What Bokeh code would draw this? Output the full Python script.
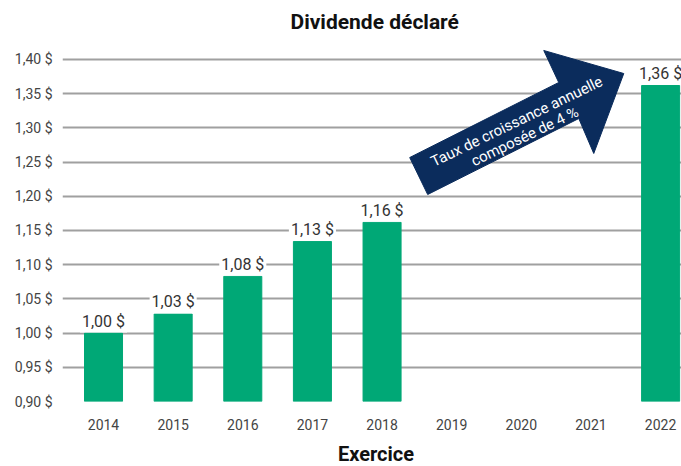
from bokeh.plotting import figure
from bokeh.models import ColumnDataSource, FixedTicker, Range1d, Div
from bokeh.layouts import column
from bokeh.core.properties import value
from bokeh.embed import file_html
from bokeh.resources import INLINE

years = ["2014", "2015", "2016", "2017", "2018", "2019", "2020", "2021", "2022"]
bar_years = ["2014", "2015", "2016", "2017", "2018", "2022"]
dividends = [1.000, 1.028, 1.083, 1.134, 1.162, 1.362]
dividend_labels = ["1,00 $", "1,03 $", "1,08 $", "1,13 $", "1,16 $", "1,36 $"]
y_ticks = [0.90, 0.95, 1.00, 1.05, 1.10, 1.15, 1.20, 1.25, 1.30, 1.35, 1.40]
y_tick_labels = ["0,90 $", "0,95 $", "1,00 $", "1,05 $", "1,10 $", "1,15 $",
                 "1,20 $", "1,25 $", "1,30 $", "1,35 $", "1,40 $"]

FONT = "Roboto"
GREEN = "#00A876"
NAVY = "#0B2C5C"

xpos = [years.index(y) for y in bar_years]
src = ColumnDataSource(dict(x=xpos, top=dividends, label=dividend_labels))

p = figure(width=681, height=443, output_backend="svg", toolbar_location=None,
           x_range=Range1d(-0.589, 8.30), y_range=Range1d(0.9, 1.4307),
           min_border_left=62, min_border_right=0, min_border_top=38, min_border_bottom=42)
p.outline_line_color = None
p.background_fill_color = "white"

p.title.text = "Dividende déclaré"
p.title.align = "left"
p.title.offset = 228
p.title.text_font = FONT
p.title.text_font_size = "21px"
p.title.text_font_style = "bold"
p.title.text_color = "#111111"

# grid
p.xgrid.visible = False
p.ygrid.ticker = FixedTicker(ticks=y_ticks)
p.ygrid.grid_line_color = "#A0A0A0"
p.ygrid.grid_line_width = 2

# bars
p.vbar(x="x", top="top", bottom=0.9, width=0.546, source=src, color=GREEN)
p.text(x="x", y="top", text="label", source=src, text_align="center",
       text_baseline="alphabetic", y_offset=-12, text_font=value(FONT),
       text_font_size="16px", text_color="#333333",
       background_fill_color="white", padding=2)

# arrow annotation
ax = [4.655, 4.397, 6.537, 6.322, 7.471, 7.040, 6.825]
ay = [1.2026, 1.2567, 1.3664, 1.4132, 1.3795, 1.2626, 1.3137]
p.patch(ax, ay, fill_color=NAVY, line_color=NAVY)
ang = 0.45
p.text(x=[5.934], y=[1.3094], text=["Taux de croissance annuelle"], angle=ang,
       text_align="center", text_baseline="middle", text_font=value(FONT),
       text_font_size="15px", text_color="white")
p.text(x=[6.049], y=[1.2874], text=["composée de 4 %"], angle=ang,
       text_align="center", text_baseline="middle", text_font=value(FONT),
       text_font_size="15px", text_color="white")

# axes
p.yaxis.ticker = FixedTicker(ticks=y_ticks)
p.yaxis.major_label_overrides = {t: l for t, l in zip(y_ticks, y_tick_labels)}
p.xaxis.ticker = FixedTicker(ticks=list(range(len(years))))
p.xaxis.major_label_overrides = {i: y for i, y in enumerate(years)}
for a in (p.xaxis[0], p.yaxis[0]):
    a.axis_line_color = None
    a.major_tick_line_color = None
    a.minor_tick_line_color = None
    a.major_label_text_font = FONT
    a.major_label_text_font_size = "14px"
    a.major_label_text_color = "#444444"
p.yaxis.major_label_standoff = 4
p.xaxis.major_label_standoff = 11

xlabel = Div(text="Exercice", width=681, height=23, margin=0,
             styles={"font-family": FONT, "font-size": "20px", "font-weight": "bold",
                     "color": "#111111", "text-align": "center", "line-height": "23px",
                     "padding-left": "71px", "box-sizing": "border-box", "width": "681px"})

layout = column(p, xlabel, spacing=0)
open("out.html", "w").write(file_html(layout, INLINE))
